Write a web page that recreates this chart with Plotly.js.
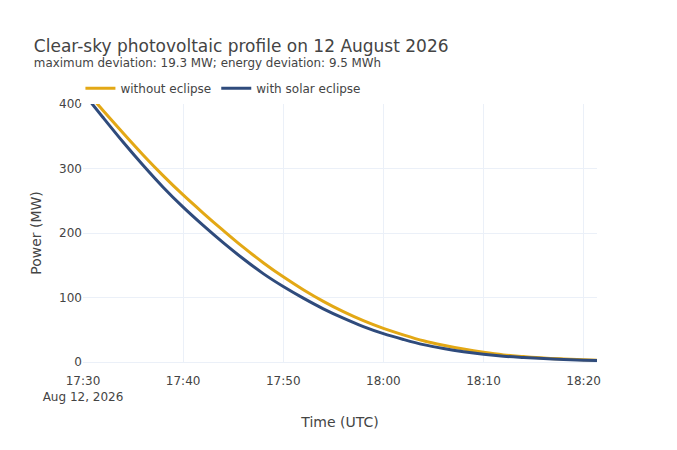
<!DOCTYPE html>
<html>
<head>
<meta charset="utf-8">
<script src="https://cdn.plot.ly/plotly-3.0.1.min.js"></script>
<style>
  html, body { margin: 0; padding: 0; background: #fff; }
  #myDiv { width: 677px; height: 450px; }
</style>
</head>
<body>
<div id="myDiv"></div>
<script>
// sample times (UTC)
var times = [
  '2026-08-12 17:30:00', '2026-08-12 17:32:00', '2026-08-12 17:34:00', '2026-08-12 17:36:00',
  '2026-08-12 17:38:00', '2026-08-12 17:40:00', '2026-08-12 17:42:00', '2026-08-12 17:44:00',
  '2026-08-12 17:46:00', '2026-08-12 17:48:00', '2026-08-12 17:50:00', '2026-08-12 17:52:00',
  '2026-08-12 17:54:00', '2026-08-12 17:56:00', '2026-08-12 17:58:00', '2026-08-12 18:00:00',
  '2026-08-12 18:02:00', '2026-08-12 18:04:00', '2026-08-12 18:06:00', '2026-08-12 18:08:00',
  '2026-08-12 18:10:00', '2026-08-12 18:12:00', '2026-08-12 18:14:00', '2026-08-12 18:16:00',
  '2026-08-12 18:18:00', '2026-08-12 18:20:00', '2026-08-12 18:21:20'
];

// power in MW
var withoutEclipse = [426, 390, 355, 321, 289, 259, 231, 204, 178, 154, 132, 112, 94, 78,
  64, 52, 42, 33, 26, 20, 15, 11, 8.5, 6.3, 4.7, 3.3, 2.6];
var withEclipse = [418, 379, 341, 305, 271, 240, 211.7, 185, 160, 137, 117, 99, 82.5, 68,
  55, 44, 35, 27, 21, 16, 12, 9, 7, 5.3, 4, 2.8, 2.3];

var trace1 = {
  x: times,
  y: withoutEclipse,
  type: 'scatter',
  mode: 'lines',
  name: 'without eclipse',
  line: { color: '#e3a815', width: 3, shape: 'spline' }
};

var trace2 = {
  x: times,
  y: withEclipse,
  type: 'scatter',
  mode: 'lines',
  name: 'with solar eclipse',
  line: { color: '#2f4b7c', width: 3, shape: 'spline' }
};

var layout = {
  width: 677,
  height: 450,
  margin: { l: 83, r: 80, t: 104, b: 88 },
  font: { family: 'Verdana, "DejaVu Sans", sans-serif', color: '#444', size: 12 },
  paper_bgcolor: '#fff',
  plot_bgcolor: '#fff',
  title: {
    text: 'Clear-sky photovoltaic profile on 12 August 2026<br><sup>maximum deviation: 19.3 MW; energy deviation: 9.5 MWh</sup>',
    font: { size: 17 },
    x: 0.05,
    xanchor: 'left',
    y: 0.885,
    yanchor: 'top'
  },
  legend: {
    orientation: 'h',
    x: -0.005,
    xanchor: 'left',
    y: 1.005,
    yanchor: 'bottom',
    font: { size: 12 }
  },
  xaxis: {
    title: { text: 'Time (UTC)', font: { size: 14 }, standoff: 14 },
    range: [times[0], times[times.length - 1]],
    gridcolor: '#ebf0f8',
    ticklabelstandoff: 10,
    zeroline: false
  },
  yaxis: {
    title: { text: 'Power (MW)', font: { size: 14 }, standoff: 14 },
    range: [0, 400],
    dtick: 100,
    gridcolor: '#ebf0f8',
    zerolinecolor: '#ebf0f8'
  }
};

Plotly.newPlot('myDiv', [trace1, trace2], layout, { displayModeBar: false });
</script>
</body>
</html>
